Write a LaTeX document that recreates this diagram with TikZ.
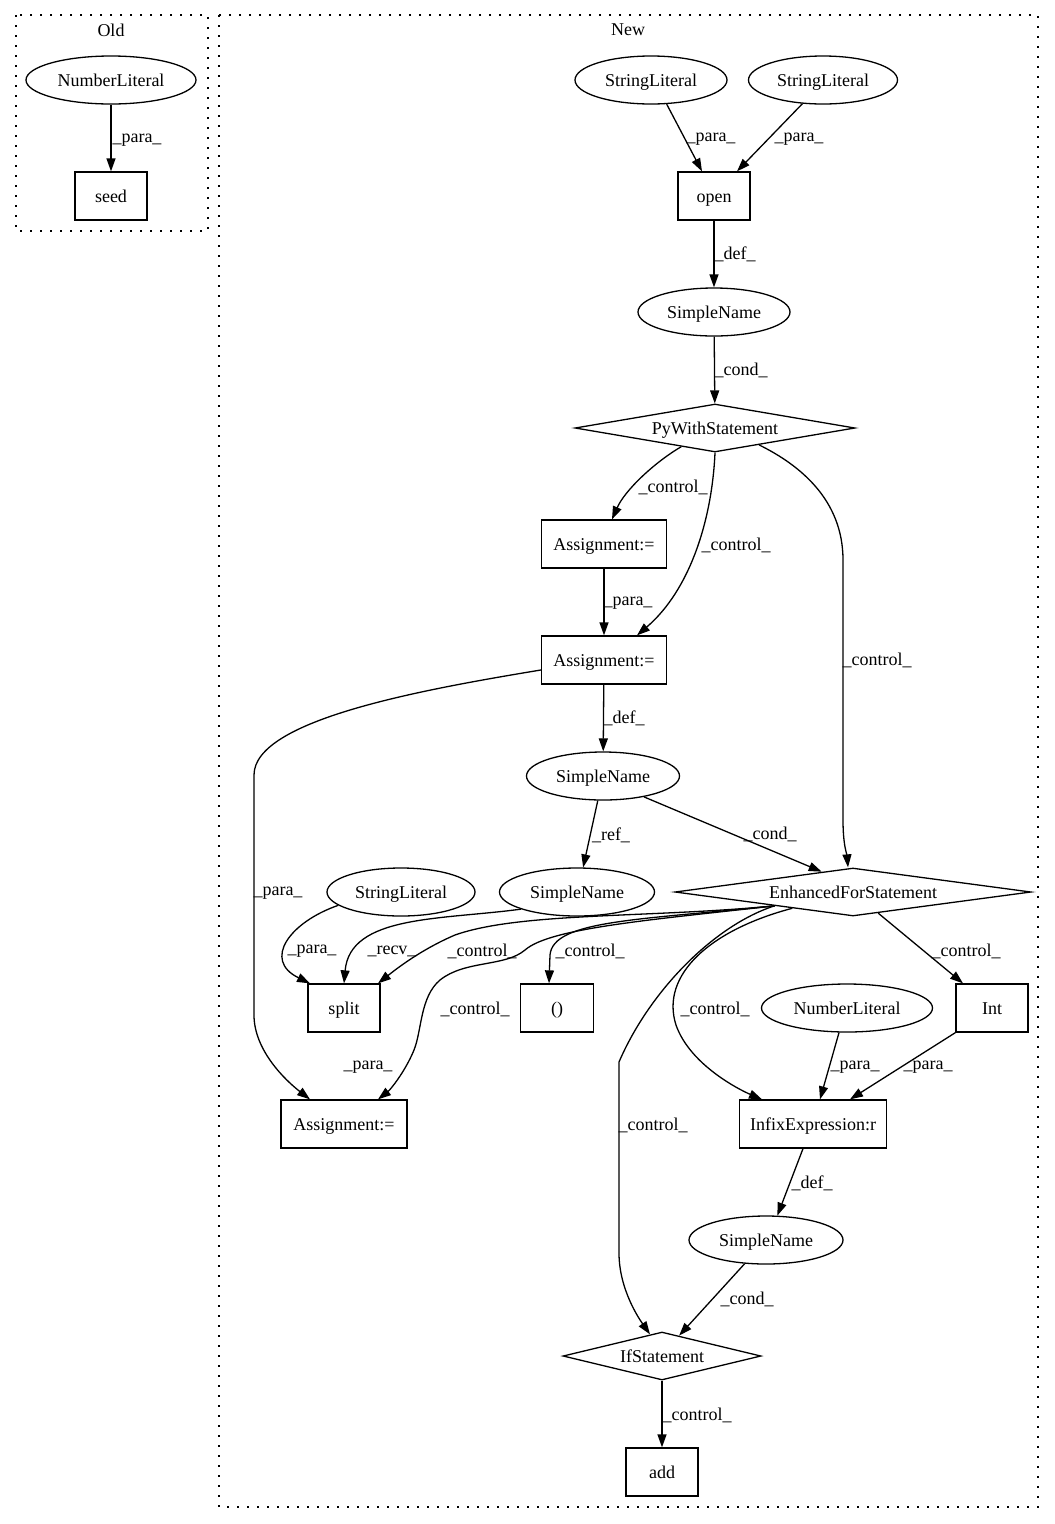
\documentclass[tikz,border=0pt]{standalone}
\usepackage{fontspec}
\setmainfont{Liberation Serif}
\usetikzlibrary{shapes.geometric,arrows.meta}
\tikzset{
  every node/.style={font=\fontsize{18}{21}\selectfont},
  ell/.style={draw, ellipse, line width=1.3pt, minimum width=#1, minimum height=48pt, inner sep=0pt, text height=14pt, text depth=2pt},
  box/.style={draw, rectangle, line width=1.3pt, minimum width=#1, minimum height=48pt, inner sep=0pt, text height=14pt, text depth=2pt},
  dia/.style={draw, diamond, line width=1.3pt, minimum width=#1, minimum height=48pt, inner sep=0pt, text height=14pt, text depth=2pt},
  edge/.style={-{Triangle[length=13pt,width=9pt]}, line width=1.3pt},
  lbl/.style={inner sep=0pt},
  clus/.style={draw, line width=1.3pt, dash pattern=on 2pt off 8pt},
}
\begin{document}
\begin{tikzpicture}[x=1pt,y=-1pt]
\useasboundingbox (0,0) rectangle (1055,1524);
\draw[clus] (16,15) rectangle (208,231);
\draw[clus] (219,15) rectangle (1038,1507);
\node[lbl] (told) at (111,30) {Old};
\node[lbl] (tnew) at (628,30) {New};

% nodes
\node[ell=170pt] (nl1) at (111,80) {NumberLiteral};
\node[box=72pt] (seed) at (111,196) {seed};
\node[ell=152pt] (sl1) at (651,80) {StringLiteral};
\node[ell=149pt] (sl2) at (823,80) {StringLiteral};
\node[box=72pt] (open) at (714,196) {open};
\node[ell=152pt] (sn1) at (714,312) {SimpleName};
\node[dia=280pt, aspect=6] (pw) at (715,428) {PyWithStatement};
\node[box=125pt] (a1) at (604,544) {Assignment:=};
\node[box=125pt] (a2) at (604,660) {Assignment:=};
\node[ell=153pt] (sn2) at (603,776) {SimpleName};
\node[dia=356pt, aspect=8] (efs) at (853,892) {EnhancedForStatement};
\node[ell=155pt] (sn3) at (577,892) {SimpleName};
\node[ell=148pt] (sl3) at (401,892) {StringLiteral};
\node[box=72pt] (split) at (344,1008) {split};
\node[box=73pt] (par) at (557,1008) {()};
\node[ell=171pt] (nl2) at (847,1008) {NumberLiteral};
\node[box=72pt] (int) at (992,1008) {Int};
\node[box=126pt] (a3) at (344,1124) {Assignment:=};
\node[box=147pt] (infix) at (813,1124) {InfixExpression:r};
\node[ell=154pt] (sn4) at (766,1240) {SimpleName};
\node[dia=198pt, aspect=4] (if) at (662,1356) {IfStatement};
\node[box=72pt] (add) at (662,1472) {add};

% edges
\draw[edge] (nl1) -- (seed);
\draw[edge] (sl1.-57) -- ([xshift=-12pt]open.north);
\draw[edge] (sl2.229) -- ([xshift=23pt]open.north);
\draw[edge] (open) -- (sn1);
\draw[edge] (sn1) -- (pw);
\draw[edge] (pw.209) .. controls (655,462) and (625,490) .. ([xshift=8pt]a1.north);
\draw[edge] (pw.south) .. controls (712,520) and (690,590) .. ([xshift=33pt]a2.north);
\draw[edge] (pw.-21) .. controls (800,465) and (843,500) .. (843,560) -- (843,820) .. controls (843,845) and (847,855) .. ([xshift=-5pt]efs.north);
\draw[edge] (a1) -- (a2);
\draw[edge] (a2) -- (sn2);
\draw[edge] ([yshift=-10pt]a2.west) .. controls (420,690) and (254,720) .. (254,775) -- (254,1015) .. controls (254,1050) and (285,1080) .. ([xshift=-34pt]a3.north);
\draw[edge] (sn2.258) -- (sn3.76);
\draw[edge] (sn2.-27) -- (efs.147);
\draw[edge] (sl3.192) .. controls (290,922) and (262,960) .. ([xshift=-34pt]split.north);
\draw[edge] (sn3.197) .. controls (440,920) and (350,915) .. (split.north);
\draw[edge] (efs.190) .. controls (650,918) and (520,912) .. (455,935) .. controls (420,950) and (395,970) .. ([xshift=34pt]split.north);
\draw[edge] (efs.190) .. controls (640,920) and (553,920) .. (550,955) -- ([xshift=-8pt]par.north);
\draw[edge] (efs.190) .. controls (650,920) and (550,928) .. (525,950) .. controls (505,967) and (465,960) .. (440,980) .. controls (420,997) and (422,1030) .. (414,1050) .. controls (405,1072) and (390,1090) .. ([xshift=34pt]a3.north);
\draw[edge] (efs.190) .. controls (715,925) and (650,990) .. (619,1062) -- (619,1253) .. controls (619,1290) and (640,1320) .. (if.119);
\draw[edge] (efs.195) .. controls (710,930) and (660,975) .. (676,1025) .. controls (690,1065) and (740,1090) .. ([xshift=-51pt]infix.north);
\draw[edge] (efs.-40) -- ([xshift=-29pt]int.north);
\draw[edge] (nl2.-108) -- ([xshift=7pt]infix.north);
\draw[edge] (int.south west) -- ([xshift=37pt]infix.north);
\draw[edge] ([xshift=-10pt]infix.south) -- (sn4.65);
\draw[edge] (sn4.228) -- (if.50);
\draw[edge] (if) -- (add);

% labels
\node[lbl] (e1) at (137,140) {\_para\_};
\node[lbl] (e2) at (711,139) {\_para\_};
\node[lbl] (e3) at (799,139) {\_para\_};
\node[lbl] (e4) at (735,254) {\_def\_};
\node[lbl] (e5) at (741,370) {\_cond\_};
\node[lbl] (e6) at (673,487) {\_control\_};
\node[lbl] (e7) at (736,545) {\_control\_};
\node[lbl] (e8) at (877,660) {\_control\_};
\node[lbl] (e9) at (628,603) {\_para\_};
\node[lbl] (e10) at (624,718) {\_def\_};
\node[lbl] (e11) at (278,893) {\_para\_};
\node[lbl] (e12) at (611,835) {\_ref\_};
\node[lbl] (e13) at (770,834) {\_cond\_};
\node[lbl] (e14) at (312,951) {\_para\_};
\node[lbl] (e15) at (392,951) {\_recv\_};
\node[lbl] (e16) at (482,951) {\_control\_};
\node[lbl] (e17) at (590,951) {\_control\_};
\node[lbl] (e18) at (475,1009) {\_control\_};
\node[lbl] (e19) at (368,1067) {\_para\_};
\node[lbl] (e20) at (966,951) {\_control\_};
\node[lbl] (e21) at (715,1009) {\_control\_};
\node[lbl] (e22) at (855,1067) {\_para\_};
\node[lbl] (e23) at (928,1067) {\_para\_};
\node[lbl] (e24) at (653,1125) {\_control\_};
\node[lbl] (e25) at (812,1183) {\_def\_};
\node[lbl] (e26) at (747,1299) {\_cond\_};
\node[lbl] (e27) at (697,1415) {\_control\_};
\end{tikzpicture}
\end{document}
